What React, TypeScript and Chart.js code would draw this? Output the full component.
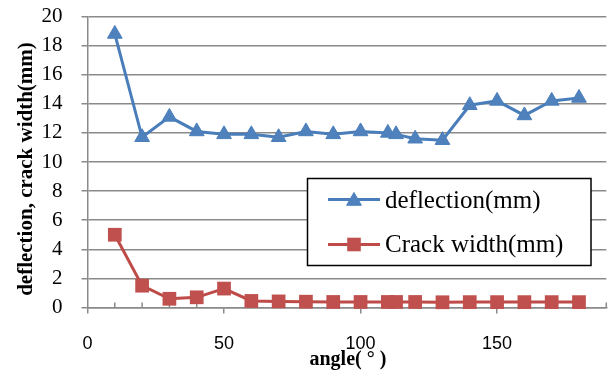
import React, { useEffect, useRef } from "react";
import { Chart, registerables } from "chart.js";

Chart.register(...registerables);

// ---- data ----
const angles = [10, 20, 30, 40, 50, 60, 70, 80, 90, 100, 110, 113, 120, 130, 140, 150, 160, 170, 180];
const deflection = [18.8, 11.7, 13.1, 12.1, 11.9, 11.9, 11.7, 12.1, 11.9, 12.1, 12.0, 11.9, 11.6, 11.5, 13.9, 14.2, 13.2, 14.2, 14.4];
const crackWidth = [5.0, 1.5, 0.6, 0.7, 1.3, 0.45, 0.42, 0.4, 0.38, 0.38, 0.38, 0.38, 0.38, 0.36, 0.37, 0.37, 0.37, 0.37, 0.37];
const xLabelTicks = [0, 50, 100, 150];
const seriesNames = ["deflection(mm)", "Crack width(mm)"];
const xTitle = "angle( ° )";
const yTitle = "deflection, crack width(mm)";

const X_MIN = 0;
const X_MAX = 190;
const X_MINOR = 10;
const Y_MIN = 0;
const Y_MAX = 20;
const Y_STEP = 2;

const GRID = "#8a8a8a";
const BLUE_LINE = "#4A7EBB";
const BLUE_FILL = "#4F81BD";
const RED_LINE = "#BE4B48";
const RED_FILL = "#C0504D";

function drawTriangle(ctx: CanvasRenderingContext2D, x: number, y: number, r: number) {
  ctx.beginPath();
  ctx.moveTo(x, y - r);
  ctx.lineTo(x + r * 0.866, y + r * 0.5);
  ctx.lineTo(x - r * 0.866, y + r * 0.5);
  ctx.closePath();
  ctx.fillStyle = BLUE_FILL;
  ctx.fill();
  ctx.strokeStyle = BLUE_LINE;
  ctx.lineWidth = 1;
  ctx.stroke();
}

function drawSquare(ctx: CanvasRenderingContext2D, x: number, y: number, half: number) {
  ctx.fillStyle = RED_FILL;
  ctx.fillRect(x - half, y - half, half * 2, half * 2);
}

const decorPlugin = {
  id: "decor",
  beforeDatasetsDraw(chart: any) {
    const { ctx, chartArea, scales } = chart;
    const x = scales.x;
    ctx.save();
    ctx.strokeStyle = GRID;
    ctx.lineWidth = 1.5;
    for (let v = X_MIN + X_MINOR; v <= X_MAX; v += X_MINOR) {
      if (v % 50 === 0) continue;
      const px = x.getPixelForValue(v);
      ctx.beginPath();
      ctx.moveTo(px, chartArea.bottom);
      ctx.lineTo(px, chartArea.bottom - 5);
      ctx.stroke();
    }
    ctx.restore();
  },
  afterDraw(chart: any) {
    const { ctx, chartArea } = chart;
    ctx.save();
    // y title
    ctx.save();
    ctx.translate(32, 169);
    ctx.rotate(-Math.PI / 2);
    ctx.font = 'bold 21px "Liberation Serif"';
    ctx.fillStyle = "#000";
    ctx.textAlign = "center";
    ctx.textBaseline = "alphabetic";
    ctx.fillText(yTitle, 0, 0);
    ctx.restore();
    // x title
    ctx.font = 'bold 20px "Liberation Serif"';
    ctx.fillStyle = "#000";
    ctx.textAlign = "center";
    ctx.textBaseline = "alphabetic";
    ctx.fillText(xTitle, (chartArea.left + chartArea.right) / 2 + 1, 365);

    // legend
    const lx = 307.5, ly = 178.5, lw = 283.5, lh = 87;
    ctx.fillStyle = "#fff";
    ctx.fillRect(lx, ly, lw, lh);
    ctx.strokeStyle = "#000";
    ctx.lineWidth = 1.5;
    ctx.strokeRect(lx, ly, lw, lh);

    const rows = [
      { y: 199.5, base: 207.5, color: BLUE_LINE, kind: "tri" },
      { y: 244.5, base: 251.5, color: RED_LINE, kind: "sq" },
    ];
    rows.forEach((r, i) => {
      ctx.strokeStyle = r.color;
      ctx.lineWidth = 3;
      ctx.beginPath();
      ctx.moveTo(328, r.y);
      ctx.lineTo(380, r.y);
      ctx.stroke();
      if (r.kind === "tri") drawTriangle(ctx, 354, r.y + 1.5, 8.5);
      else drawSquare(ctx, 354, r.y, 6.8);
      ctx.font = '25px "Liberation Serif"';
      ctx.fillStyle = "#000";
      ctx.textAlign = "left";
      ctx.textBaseline = "alphabetic";
      ctx.fillText(seriesNames[i], 385, r.base);
    });
    ctx.restore();
  },
};

export default function App() {
  const ref = useRef<HTMLCanvasElement | null>(null);

  useEffect(() => {
    if (!ref.current) return;
    const chart = new Chart(ref.current, {
      type: "line",
      data: {
        datasets: [
          {
            label: seriesNames[0],
            data: angles.map((a, i) => ({ x: a, y: deflection[i] })),
            borderColor: BLUE_LINE,
            borderWidth: 3,
            pointStyle: "triangle",
            pointRadius: 8.5,
            pointBackgroundColor: BLUE_FILL,
            pointBorderColor: BLUE_LINE,
            pointBorderWidth: 1,
            tension: 0,
            clip: false as any,
          },
          {
            label: seriesNames[1],
            data: angles.map((a, i) => ({ x: a, y: crackWidth[i] })),
            borderColor: RED_LINE,
            borderWidth: 3,
            pointStyle: "rect",
            pointRadius: 9.7,
            pointBackgroundColor: RED_FILL,
            pointBorderColor: RED_FILL,
            pointBorderWidth: 0,
            tension: 0,
            clip: false as any,
          },
        ],
      },
      options: {
        animation: false,
        responsive: false,
        events: [],
        layout: { padding: { top: 16.5, right: 4, bottom: 0, left: 0 } },
        plugins: {
          legend: { display: false },
          tooltip: { enabled: false },
        },
        scales: {
          x: {
            type: "linear",
            min: X_MIN,
            max: X_MAX,
            afterBuildTicks: (scale: any) => {
              const t = [];
              for (let v = X_MIN; v <= X_MAX; v += X_MINOR) t.push({ value: v });
              scale.ticks = t;
            },
            afterFit: (scale: any) => {
              scale.height = 63.5;
              scale.paddingLeft = 0;
              scale.paddingRight = 0;
            },
            ticks: {
              autoSkip: false,
              maxRotation: 0,
              padding: 20,
              color: "#000",
              font: { family: '"Liberation Sans"', size: 18 },
              callback: (v: any) => (xLabelTicks.includes(Number(v)) ? String(v) : ""),
            },
            grid: {
              drawOnChartArea: false,
              drawTicks: true,
              tickLength: 6,
              lineWidth: 1.5,
              color: (c: any) => (c.tick && xLabelTicks.includes(c.tick.value) ? GRID : "rgba(0,0,0,0)"),
            },
            border: { display: true, color: GRID, width: 1.5 },
          },
          y: {
            type: "linear",
            min: Y_MIN,
            max: Y_MAX,
            afterFit: (scale: any) => {
              scale.width = 87.5;
              scale.paddingTop = 0;
              scale.paddingBottom = 0;
            },
            ticks: {
              stepSize: Y_STEP,
              autoSkip: false,
              padding: 19,
              color: "#000",
              font: { family: '"Liberation Serif"', size: 21 },
            },
            grid: {
              color: GRID,
              lineWidth: 1.5,
              drawTicks: true,
              tickLength: 6,
            },
            border: { display: true, color: GRID, width: 1.5 },
          },
        },
      },
      plugins: [decorPlugin],
    } as any);
    return () => chart.destroy();
  }, []);

  return (
    <div style={{ position: "fixed", left: 0, top: 0, width: 616, height: 371, background: "#fff" }}>
      <canvas ref={ref} width={616} height={371} style={{ width: 616, height: 371, display: "block" }} />
    </div>
  );
}
